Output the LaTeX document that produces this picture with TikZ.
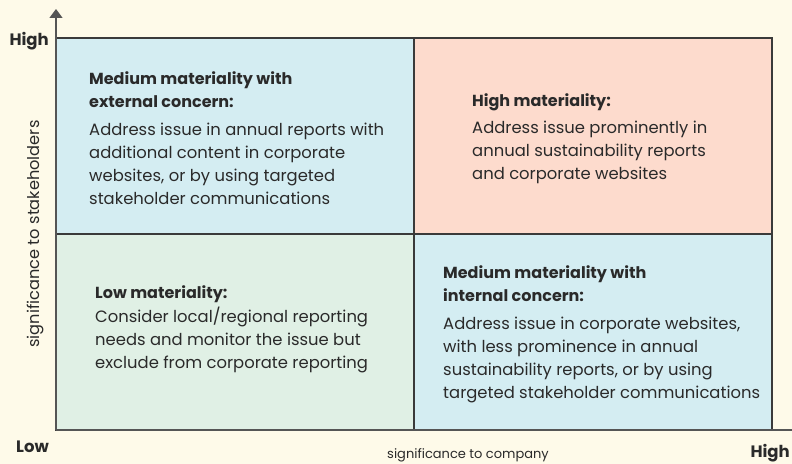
\documentclass[tikz,border=0pt]{standalone}
\usepackage{fontspec}
\setmainfont{Poppins}
\usetikzlibrary{arrows.meta}
\definecolor{bg}{HTML}{FEFAE9}
\definecolor{cblue}{HTML}{D4EDF2}
\definecolor{csalmon}{HTML}{FDDBCD}
\definecolor{cgreen}{HTML}{E0F0E5}
\definecolor{gline}{HTML}{3A3A3A}
\definecolor{axline}{HTML}{555555}
\definecolor{txt}{HTML}{2A2A2A}
\newcommand{\celltitle}[1]{{\fontsize{16bp}{23bp}\selectfont\bfseries #1}}
\tikzset{
  cell/.style={draw=gline, line width=1.3bp},
  celltext/.style={anchor=base west, align=left, inner sep=0pt, text=txt,
    font=\fontsize{16.4bp}{23bp}\selectfont},
  axlabel/.style={inner sep=0pt, text=txt, font=\fontsize{13bp}{16bp}\selectfont},
  ylabel/.style={inner sep=0pt, text=txt, font=\fontsize{16.2bp}{18bp}\selectfont},
  endlabel/.style={inner sep=0pt, text=txt, font=\fontsize{16.5bp}{18bp}\selectfont\bfseries},
  axis/.style={draw=axline, line width=1.4bp, -{Triangle[length=9bp,width=13bp]}}
}
\begin{document}
\begin{tikzpicture}[x=1bp,y=-1bp]
\useasboundingbox (0,0) rectangle (792,464);
\fill[bg] (0,0) rectangle (792,464);
% cells
\filldraw[cell, fill=cblue] (56,38) rectangle (414,234);
\filldraw[cell, fill=csalmon] (414,38) rectangle (772,234);
\filldraw[cell, fill=cgreen] (56,234) rectangle (414,430);
\filldraw[cell, fill=cblue] (414,234) rectangle (772,430);
% axes
\coordinate (o) at (56,430);
\coordinate (ytop) at (56,9);
\coordinate (xend) at (801,430);
\draw[axis] (o) -- (ytop);
\draw[axis] (o) -- (xend);
% end labels
\node[endlabel, anchor=base east] (yhigh) at (49,46) {High};
\node[endlabel, anchor=base west] (xlow) at (16,452) {Low};
\node[endlabel, anchor=base east] (xhigh) at (790,457) {High};
\node[axlabel, anchor=base] (xlab) at (468,458) {significance to company};
\node[ylabel, rotate=90, anchor=base] (ylab) at (39,234) {significance to stakeholders};
% cell texts (anchored at baseline of last line)
\node[celltext] (tl) at (89,205) {\celltitle{Medium materiality with}\\\celltitle{external concern:}\\[5bp]
Address issue in annual reports with\\additional content in corporate\\websites, or by using targeted\\stakeholder communications};
\node[celltext] (tr) at (472,180) {\celltitle{High materiality:}\\[4bp]
Address issue prominently in\\annual sustainability reports\\and corporate websites};
\node[celltext] (bl) at (95,369) {\celltitle{Low materiality:}\\[1bp]
Consider local/regional reporting\\needs and monitor the issue but\\exclude from corporate reporting};
\node[celltext] (br) at (443,398) {\celltitle{Medium materiality with}\\\celltitle{internal concern:}\\[4bp]
Address issue in corporate websites,\\with less prominence in annual\\sustainability reports, or by using\\targeted stakeholder communications};
\end{tikzpicture}
\end{document}
